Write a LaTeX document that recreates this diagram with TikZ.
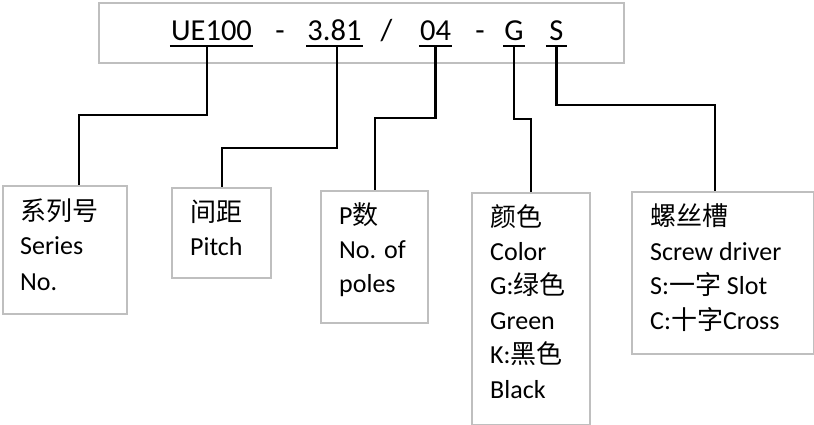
\documentclass[tikz,border=0pt]{standalone}
\usepackage{fontspec}
\setmainfont{Carlito}
\newfontfamily\cjk{Noto Sans CJK SC}
\definecolor{boxgray}{RGB}{191,191,191}

\begin{document}
\begin{tikzpicture}[x=1pt, y=-1pt,
  cell/.style={draw=boxgray, line width=2.4pt, anchor=north west, inner sep=0pt},
  piece/.style={font=\fontsize{30.5}{36}\selectfont, anchor=base, inner xsep=1pt, inner ysep=0pt, text depth=5pt},
  word/.style={font=\fontsize{26}{30}\selectfont, anchor=base west, inner sep=0pt},
  link/.style={line width=2.2pt}]
%\draw [help lines, step=20] (0,0) grid (814,425);
\useasboundingbox (0,0) rectangle (814,425);

\node [cell, minimum width=525pt, minimum height=60pt] (strip) at (98,2) {};

\node [piece] (ue) at (211.5,41) {UE100};
\node [piece] (d1) at (280,41) {-};
\node [piece] (pi) at (334.5,41) {3.81};
\node [piece] (sl) at (386.5,41) {/};
\node [piece] (po) at (435.5,41) {04};
\node [piece] (d2) at (480,41) {-};
\node [piece] (co) at (514,41) {G};
\node [piece, minimum width=21pt] (sc) at (556.5,41) {S};

\draw [link] (ue.south west) -- (ue.south east);
\draw [link] (pi.south west) -- (pi.south east);
\draw [link] (po.south west) -- (po.south east);
\draw [link] (co.south west) -- (co.south east);
\draw [link] (sc.south west) -- (sc.south east);

\node [cell, minimum width=124pt, minimum height=128pt] (series) at (2,185) {};
\node [cell, minimum width=99pt, minimum height=90pt] (pitch) at (171,187) {};
\node [cell, minimum width=107pt, minimum height=132pt] (poles) at (320,190) {};
\node [cell, minimum width=118pt, minimum height=232pt] (color) at (471,192) {};
\node [cell, minimum width=182pt, minimum height=162pt] (slot) at (631,191) {};

\draw [link] ([xshift=-4.5pt]ue.south) -- ++(0,69) -| ([xshift=14pt]series.north);
\draw [link] ([xshift=2.5pt]pi.south) -- ++(0,102) -| (pitch.north);
\draw [link] (po.south) -- ++(0,72) -| (poles.north);
\draw [link] (co.south) -- ++(0,73) -| (color.north);
\draw [link] (sc.south) -- ++(0,59) -| ([xshift=-8pt]slot.north);

\node [word] (t11) at (20,220) {\cjk 系列号};
\node [word] (t12) at (20,254) {Series};
\node [word] (t13) at (20,290) {No.};

\node [word] (t21) at (190,221) {\cjk 间距};
\node [word] (t22) at (190,255) {Pitch};

\node [word] (t31) at (339,224) {P{\cjk 数}};
\node [word] (t32) at (339,258) {No. of};
\node [word] (t33) at (339,292) {poles};

\node [word] (t41) at (490,226) {\cjk 颜色};
\node [word] (t42) at (490,260) {Color};
\node [word] (t43) at (490,294.5) {G:{\cjk 绿色}};
\node [word] (t44) at (490,329) {Green};
\node [word] (t45) at (490,363.5) {K:{\cjk 黑色}};
\node [word] (t46) at (490,398) {Black};

\node [word] (t51) at (650,225.5) {\cjk 螺丝槽};
\node [word] (t52) at (650,260) {Screw driver};
\node [word] (t53) at (650,294.5) {S:{\cjk 一字} Slot};
\node [word] (t54) at (650,329) {C:{\cjk 十字}Cross};

\end{tikzpicture}
\end{document}
